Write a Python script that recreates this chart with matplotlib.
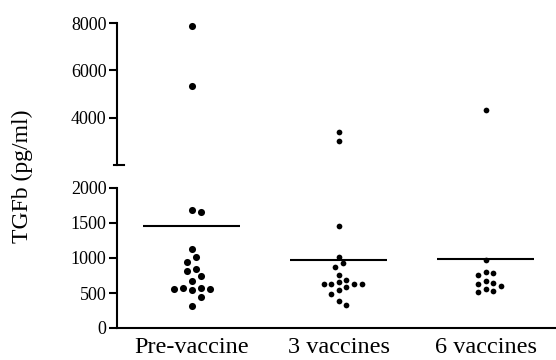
import numpy as np
import matplotlib
matplotlib.use("Agg")
import matplotlib.pyplot as plt

# ── Data (pg/ml) ───────────────────────────────────────────────────────────────
groups = ["Pre-vaccine", "3 vaccines", "6 vaccines"]

pre_vaccine = [7890, 5340, 1680, 1660, 1124, 1019, 947, 847, 819, 739, 671,
               576, 576, 553, 553, 543, 447, 319]
three_vaccines = [3400, 3000, 1461, 1010, 924, 871, 762, 686, 662, 633, 633,
                  629, 624, 581, 543, 486, 390, 333]
six_vaccines = [4320, 967, 805, 781, 757, 671, 647, 633, 595, 553, 533, 519]

group_values = [pre_vaccine, three_vaccines, six_vaccines]
group_lines = [1457, 971, 986]

lower_ticks = [0, 500, 1000, 1500, 2000]
upper_ticks = [4000, 6000, 8000]
break_at = 2000

plt.rcParams["font.family"] = ["Liberation Serif", "DejaVu Serif"]

fig = plt.figure(figsize=(5.56, 3.6), dpi=100)
left, width = 117 / 556, 1 - 117 / 556
ax_lo = fig.add_axes([left, 1 - 328 / 360, width, (328 - 188) / 360])
ax_hi = fig.add_axes([left, 1 - 165 / 360, width, (165 - 23) / 360])

for ax in (ax_lo, ax_hi):
    ax.set_xlim(0.49, 3.48)
    for s in ("top", "right"):
        ax.spines[s].set_visible(False)
    ax.spines["left"].set_linewidth(1.5)
    ax.spines["bottom"].set_linewidth(1.5)
    ax.tick_params(axis="y", length=6, width=1.5, pad=1.5, labelsize=13)

ax_lo.set_ylim(0, 2000)
ax_lo.set_yticks(lower_ticks)
ax_lo.set_xticks([1, 2, 3])
ax_lo.set_xticklabels(groups, fontsize=17.5)
ax_lo.tick_params(axis="x", length=0, pad=6.5)

ax_hi.set_ylim(break_at, 8000)
ax_hi.set_yticks(upper_ticks)
ax_hi.set_xticks([])
ax_hi.spines["bottom"].set_visible(False)
# small cap at the bottom of the upper axis segment
ax_hi.plot([-0.007, 0.016], [0, 0], color="black", lw=1.5,
           transform=ax_hi.transAxes, clip_on=False)


def swarm_x(ax, xc, vals, d_min, step):
    """Greedy beeswarm: offsets on a half-step lattice in pixel space."""
    px_per_x = ax.bbox.width / (ax.get_xlim()[1] - ax.get_xlim()[0])
    ys = ax.transData.transform(np.column_stack([np.full(len(vals), xc), vals]))[:, 1]
    order = np.argsort(-np.asarray(vals))
    cands = [0.0]
    for k in range(1, 12):
        cands += [k * step, -k * step]
    placed, offs = [], np.zeros(len(vals))
    for i in order:
        for c in cands:
            if all((c - px) ** 2 + (ys[i] - py) ** 2 >= d_min ** 2 for px, py in placed):
                break
        placed.append((c, ys[i]))
        offs[i] = c
    return xc + offs / px_per_x


sizes = [26, 17, 17]
dmins = [8.5, 7.0, 7.0]
for gi, vals in enumerate(group_values):
    xc = gi + 1
    vals = np.asarray(vals, dtype=float)
    lo = vals[vals <= break_at]
    hi = vals[vals > break_at]
    if len(lo):
        ax_lo.scatter(swarm_x(ax_lo, xc, lo, dmins[gi], dmins[gi] / 2 + 0.3), lo,
                      s=sizes[gi], color="black", linewidths=0, zorder=3)
    if len(hi):
        ax_hi.scatter(swarm_x(ax_hi, xc, hi, dmins[gi], dmins[gi] / 2 + 0.3), hi,
                      s=sizes[gi], color="black", linewidths=0, zorder=3,
                      clip_on=False)
    ax_lo.hlines(group_lines[gi], xc - 0.33, xc + 0.33, color="black", lw=1.5)

fig.text(22 / 556, 1 - 176 / 360, "TGFb (pg/ml)", rotation=90,
         ha="center", va="center", fontsize=17)

fig.savefig("out.png", dpi=100)
